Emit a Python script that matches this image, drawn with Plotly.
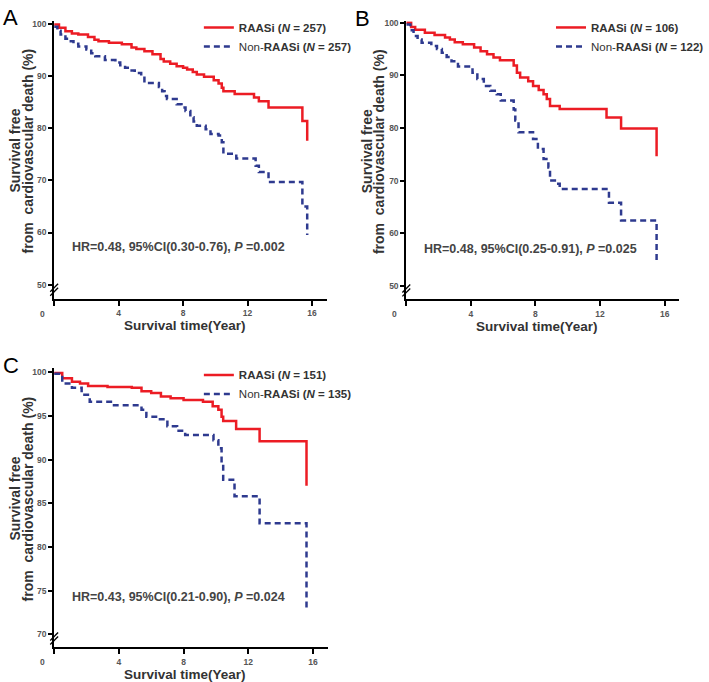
import plotly.graph_objects as go

# ---------------- data ----------------
panels = ["A", "B", "C"]

a_raas_t = [0, 0.3, 0.7, 1.1, 1.5, 2.1, 2.5, 2.75, 3.4, 4.2, 4.8, 5.1, 5.6, 6.1, 6.6, 6.8, 7.2, 7.6, 8.0, 8.25, 8.6, 8.85, 9.3, 9.9, 10.2, 10.4, 10.5, 11.2, 12.4, 12.7, 13.3, 15.4, 15.7]
a_raas_s = [99.9, 99.3, 98.6, 98.2, 98.0, 97.5, 97.0, 96.7, 96.4, 96.1, 95.5, 95.2, 94.8, 94.2, 93.3, 92.8, 92.4, 91.9, 91.6, 91.3, 90.8, 90.3, 89.9, 89.2, 88.6, 87.8, 87.1, 86.6, 85.9, 85.2, 84.0, 81.4, 77.6]
a_non_t = [0, 0.2, 0.4, 0.7, 0.9, 1.2, 1.5, 2.0, 2.3, 2.55, 3.15, 3.8, 4.1, 4.4, 4.7, 5.0, 5.4, 5.6, 6.5, 6.7, 6.85, 7.0, 7.6, 7.9, 8.15, 8.45, 8.65, 8.85, 9.4, 9.7, 10.2, 10.4, 10.5, 11.3, 12.5, 12.7, 13.3, 15.4, 15.7]
a_non_s = [99.5, 98.7, 98.0, 97.2, 96.7, 96.2, 95.7, 95.1, 94.4, 93.8, 93.1, 92.6, 92.1, 91.6, 91.1, 90.6, 90.1, 88.7, 87.9, 87.1, 86.2, 85.6, 84.6, 84.0, 83.3, 82.1, 81.3, 80.5, 79.8, 78.9, 78.6, 77.3, 75.1, 74.2, 72.8, 71.6, 69.7, 65.0, 59.5]

b_raas_t = [0, 0.3, 0.55, 1.15, 1.75, 2.4, 2.7, 3.0, 3.5, 4.2, 4.6, 5.0, 5.4, 5.8, 6.65, 6.85, 7.05, 7.55, 7.85, 8.2, 8.5, 8.7, 8.9, 9.5, 12.4, 13.3, 15.5]
b_raas_s = [100, 99.2, 98.7, 98.1, 97.7, 97.2, 96.8, 96.3, 95.9, 95.3, 94.6, 94.0, 93.4, 92.9, 91.9, 90.5, 89.6, 88.9, 88.0, 87.2, 86.4, 85.5, 84.2, 83.6, 82.0, 79.9, 74.6]
b_non_t = [0, 0.25, 0.45, 0.7, 0.95, 1.55, 1.9, 2.2, 2.5, 2.8, 3.2, 4.1, 4.4, 4.8, 5.2, 5.6, 5.85, 6.65, 6.75, 6.95, 7.85, 8.15, 8.5, 8.8, 8.9, 9.3, 9.5, 12.55, 13.3, 15.5]
b_non_s = [99.7, 98.6, 97.5, 96.8, 96.2, 95.6, 95.0, 94.3, 93.5, 92.7, 91.7, 90.5, 89.3, 88.0, 87.1, 86.4, 85.2, 83.5, 81.4, 79.2, 77.9, 76.0, 74.1, 72.5, 70.0, 69.4, 68.4, 65.8, 62.4, 54.2]

c_raas_t = [0, 0.5, 1.1, 1.6, 2.1, 3.3, 4.8, 5.4, 6.0, 6.6, 7.2, 8.0, 9.2, 9.8, 10.15, 10.35, 10.45, 11.25, 12.7, 15.6]
c_raas_s = [99.9, 99.3, 98.9, 98.7, 98.4, 98.3, 98.2, 97.8, 97.6, 97.2, 97.0, 96.8, 96.6, 96.1, 95.7, 94.9, 94.4, 93.5, 92.1, 87.0]
c_non_t = [0, 0.5, 1.1, 1.7, 2.2, 3.7, 5.4, 5.7, 6.4, 7.0, 7.6, 8.1, 9.85, 10.15, 10.35, 10.45, 11.15, 12.7, 15.6]
c_non_s = [99.8, 98.7, 98.2, 97.4, 96.6, 96.2, 95.7, 94.9, 94.6, 93.8, 93.3, 92.8, 92.2, 91.3, 89.4, 87.7, 85.8, 82.7, 72.7]

n_raas = [257, 106, 151]
n_non = [257, 122, 135]
hr_text = [
    "HR=0.48, 95%CI(0.30-0.76), <i>P</i> =0.002",
    "HR=0.48, 95%CI(0.25-0.91), <i>P</i> =0.025",
    "HR=0.43, 95%CI(0.21-0.90), <i>P</i> =0.024",
]
x_ticks = [0, 4, 8, 12, 16]
x_ticktext = ["", "4", "8", "12", "16"]
y_ticks_ab = [50, 60, 70, 80, 90, 100]
y_ticks_c = [70, 75, 80, 85, 90, 95, 100]

# ---------------- layout helpers ----------------
W, H = 709, 682
def px(x):
    return x / W
def py(y):
    return 1 - y / H

RED = "#ec1c24"
BLUE = "#2e3a8f"
FONT = "Arial, Liberation Sans, sans-serif"
TXT = "#333333"
TICK = "#555555"

fig = go.Figure()

series = [
    (a_raas_t, a_raas_s, a_non_t, a_non_s),
    (b_raas_t, b_raas_s, b_non_t, b_non_s),
    (c_raas_t, c_raas_s, c_non_t, c_non_s),
]
legnames = ["legend", "legend2", "legend3"]
for i, (rt, rs, nt, ns) in enumerate(series):
    xa = "x" if i == 0 else f"x{i+1}"
    ya = "y" if i == 0 else f"y{i+1}"
    fig.add_trace(go.Scatter(
        x=rt, y=rs, mode="lines", line=dict(color=RED, width=2.5, shape="hv"),
        name=f"<b>RAASi</b><b> (<i>N</i> = {n_raas[i]})</b>",
        xaxis=xa, yaxis=ya, legend=legnames[i]))
    fig.add_trace(go.Scatter(
        x=nt, y=ns, mode="lines", line=dict(color=BLUE, width=2.5, shape="hv", dash="6px,4px"),
        name=f"Non-<b>RAASi</b><b> (<i>N</i> = {n_non[i]})</b>",
        xaxis=xa, yaxis=ya, legend=legnames[i]))

# panel geometry (pixels): x of value 0, x of axis end, y top, y bottom
geo = [
    dict(x0=55, x1=331.7, yt=18, yb=297, yr=[47.3, 100.6], yt_vals=y_ticks_ab),
    dict(x0=412.7, x1=689.9, yt=18.3, yb=297.7, yr=[47.4, 100.3], yt_vals=y_ticks_ab),
    dict(x0=55, x1=332.7, yt=366.7, yb=647.3, yr=[68.5, 100.46], yt_vals=y_ticks_c),
]

axis_common = dict(showgrid=False, zeroline=False, showline=True, linecolor="black",
                   linewidth=2, ticks="outside", ticklen=5, tickwidth=2, tickcolor="black",
                   tickfont=dict(family=FONT, size=8.5, color=TICK, weight="bold"))

annotations = []
shapes = []
legend_pos = [(202, 10), (560, 10), (202, 359)]
for i, g in enumerate(geo):
    sfx = "" if i == 0 else str(i + 1)
    xd = [px(g["x0"]), px(g["x1"])]
    yd = [py(g["yb"]), py(g["yt"])]
    fig.layout["xaxis" + sfx] = dict(axis_common, domain=xd, range=[0, 16.9],
                                     anchor="y" + sfx, tickvals=x_ticks, ticktext=x_ticktext,
                                     ticklabelstandoff=0)
    fig.layout["yaxis" + sfx] = dict(axis_common, domain=yd, range=g["yr"],
                                     anchor="x" + sfx, tickvals=g["yt_vals"], ticklen=4)
    # panel letter
    annotations.append(dict(text=panels[i], x=px(g["x0"] - 44), y=py(g["yt"] - 3),
                            xref="paper", yref="paper", showarrow=False,
                            font=dict(family=FONT, size=22, color="black"),
                            xanchor="center", yanchor="middle"))
    # "0" tick label offset (GraphPad style)
    annotations.append(dict(text="0", x=px(g["x0"] - 12), y=py(g["yb"] + 15),
                            xref="paper", yref="paper", showarrow=False,
                            font=dict(family=FONT, size=8.5, color=TICK, weight="bold"),
                            xanchor="center", yanchor="middle"))
    # x title
    annotations.append(dict(text="<b>Survival time(Year)</b>", x=px(g["x0"] + 133),
                            y=py(g["yb"] + 27), xref="paper", yref="paper", showarrow=False,
                            font=dict(family=FONT, size=13.5, color=TXT),
                            xanchor="center", yanchor="middle"))
    # y title (two lines)
    yc = (g["yt"] + g["yb"]) / 2 - 9
    annotations.append(dict(text="<b>Survival free</b>", x=px(g["x0"] - 40), y=py(yc),
                            xref="paper", yref="paper", showarrow=False, textangle=-90,
                            font=dict(family=FONT, size=14, color=TXT),
                            xanchor="center", yanchor="middle"))
    annotations.append(dict(text="<b>from  cardiovascular death (%)</b>", x=px(g["x0"] - 27),
                            y=py(yc), xref="paper", yref="paper", showarrow=False,
                            textangle=-90, font=dict(family=FONT, size=14, color=TXT),
                            xanchor="center", yanchor="middle"))
    # HR text
    hr_y = [245, 247, 597][i]
    annotations.append(dict(text="<b>" + hr_text[i] + "</b>", x=px(g["x0"] + 126), y=py(hr_y),
                            xref="paper", yref="paper", showarrow=False,
                            font=dict(family=FONT, size=12.5, color="#444444"),
                            xanchor="center", yanchor="middle"))
    # axis break marks
    bx = g["x0"]
    by = g["yb"] - 9
    for off in (-2, 2):
        shapes.append(dict(type="line", xref="paper", yref="paper",
                           x0=px(bx - 4), y0=py(by + 4 + off), x1=px(bx + 4), y1=py(by - 4 + off),
                           line=dict(color="black", width=1.3)))
    # legend
    lx, ly = legend_pos[i]
    fig.layout[legnames[i]] = dict(x=px(lx), y=py(ly), xanchor="left", yanchor="top",
                                   bgcolor="rgba(0,0,0,0)", borderwidth=0,
                                   font=dict(family=FONT, size=11.5, color=TXT),
                                   tracegroupgap=0, itemwidth=30)

fig.update_layout(
    width=W, height=H, margin=dict(l=0, r=0, t=0, b=0),
    paper_bgcolor="white", plot_bgcolor="white",
    annotations=annotations, shapes=shapes, showlegend=True,
)

fig.write_html("out.html", config={"displayModeBar": False},
               post_script="document.body.style.margin='0';document.body.style.overflow='hidden';")
